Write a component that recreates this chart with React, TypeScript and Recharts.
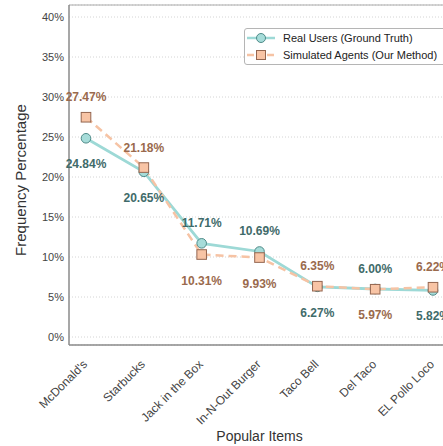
import React from 'react';
import {
  LineChart,
  Line,
  XAxis,
  YAxis,
  CartesianGrid,
  LabelList,
  ReferenceLine,
  Label,
} from 'recharts';

const categories = [
  "McDonald's",
  'Starbucks',
  'Jack in the Box',
  'In-N-Out Burger',
  'Taco Bell',
  'Del Taco',
  'EL Pollo Loco',
];
const realUsers = [24.84, 20.65, 11.71, 10.69, 6.27, 6.0, 5.82];
const simulatedAgents = [27.47, 21.18, 10.31, 9.93, 6.35, 5.97, 6.22];
const yTicks = [0, 5, 10, 15, 20, 25, 30, 35, 40];
const legendNames = ['Real Users (Ground Truth)', 'Simulated Agents (Our Method)'];

const data = categories.map((name, i) => ({
  name,
  real: realUsers[i],
  sim: simulatedAgents[i],
}));

const FONT = '"Liberation Sans", Arial, sans-serif';
const TEAL_LINE = '#9dd9d6';
const TEAL_FILL = '#a6dcd9';
const TEAL_EDGE = '#4f8b89';
const TEAL_TEXT = '#3f6b6a';
const PEACH_LINE = '#f6c3a4';
const PEACH_FILL = '#f8c4a5';
const PEACH_EDGE = '#946650';
const PEACH_TEXT = '#9a6a4d';

// value label goes above the point when this series is the higher one
function makeLabel(color: string, own: number[], other: number[]) {
  return (props: any) => {
    const { x, y, index } = props;
    const above = own[index] >= other[index];
    return (
      <text
        x={x}
        y={above ? y - 16 : y + 30}
        textAnchor="middle"
        fill={color}
        fontSize={12}
        fontWeight="bold"
        fontFamily={FONT}
      >
        {own[index].toFixed(2)}%
      </text>
    );
  };
}

function CircleDot(props: any) {
  const { cx, cy } = props;
  if (cx == null || cy == null) return null;
  return <circle cx={cx} cy={cy} r={4.8} fill={TEAL_FILL} stroke={TEAL_EDGE} strokeWidth={1} />;
}

function SquareDot(props: any) {
  const { cx, cy } = props;
  if (cx == null || cy == null) return null;
  return (
    <rect x={cx - 4.8} y={cy - 4.8} width={9.6} height={9.6} fill={PEACH_FILL} stroke={PEACH_EDGE} strokeWidth={1} />
  );
}

function XTick(props: any) {
  const { x, y, payload } = props;
  return (
    <text
      x={x + 2}
      y={y + 12}
      transform={`rotate(-45, ${x + 2}, ${y + 12})`}
      textAnchor="end"
      fill="#444"
      fontSize={12}
      fontFamily={FONT}
    >
      {payload.value}
    </text>
  );
}

function YTitle() {
  return (
    <text
      x={20}
      y={180}
      transform="rotate(-90, 20, 180)"
      textAnchor="middle"
      dominantBaseline="central"
      fontSize={15}
      fontFamily={FONT}
      fill="#333"
    >
      Frequency Percentage
    </text>
  );
}

function LegendBox() {
  return (
    <div
      style={{
        position: 'absolute',
        left: 244,
        top: 28,
        border: '1px solid #b5b5b5',
        borderRadius: 3,
        background: '#fff',
        padding: '1px 6px 1px 2px',
        fontFamily: FONT,
        fontSize: 11,
        color: '#222',
        width: 204,
        boxSizing: 'border-box',
      }}
    >
      {legendNames.map((label, i) => (
        <div key={label} style={{ display: 'flex', alignItems: 'center', height: 16.5, whiteSpace: 'nowrap' }}>
          <svg width={34} height={12} style={{ marginRight: 2, flex: 'none' }}>
            {i === 0 ? (
              <>
                <line x1={0} y1={6} x2={28} y2={6} stroke={TEAL_LINE} strokeWidth={2.5} />
                <circle cx={14} cy={6} r={4.5} fill={TEAL_FILL} stroke={TEAL_EDGE} strokeWidth={1} />
              </>
            ) : (
              <>
                <line x1={0} y1={6} x2={28} y2={6} stroke={PEACH_LINE} strokeWidth={2.5} strokeDasharray="7 3" />
                <rect x={9.5} y={1.5} width={9} height={9} fill={PEACH_FILL} stroke={PEACH_EDGE} strokeWidth={1} />
              </>
            )}
          </svg>
          <span>{label}</span>
        </div>
      ))}
    </div>
  );
}

export default function App() {
  return (
    <div style={{ position: 'absolute', left: 0, top: 0, width: 443, height: 446, overflow: 'hidden', background: '#fff' }}>
      <LineChart width={452} height={446} data={data} margin={{ top: 5, right: 2, left: 0, bottom: 0 }}>
        <CartesianGrid vertical={false} stroke="#d4d4d4" strokeDasharray="1 2" />
        <XAxis
          dataKey="name"
          interval={0}
          padding={{ left: 17, right: 17 }}
          height={101}
          tick={<XTick />}
          tickLine={false}
          axisLine={{ stroke: '#8a8a8a', strokeWidth: 1.5 }}
        >
          <Label
            value="Popular Items"
            position="insideBottom"
            offset={5}
            style={{ fontSize: 14, fontFamily: FONT, fill: '#333' }}
          />
        </XAxis>
        <YAxis
          type="number"
          domain={[-1, 41.5]}
          allowDataOverflow
          ticks={yTicks}
          tickFormatter={(v: number) => `${v}%`}
          width={69}
          tickSize={0}
          tickMargin={5}
          tickLine={false}
          tick={{ fontSize: 11, fill: '#444', fontFamily: FONT }}
          axisLine={{ stroke: '#8a8a8a', strokeWidth: 1.5 }}
        >
          <Label content={<YTitle />} />
        </YAxis>
        <ReferenceLine y={41.5} stroke="#aaaaaa" strokeWidth={1} />
        <Line
          name={legendNames[0]}
          dataKey="real"
          stroke={TEAL_LINE}
          strokeWidth={2.8}
          dot={<CircleDot />}
          activeDot={false}
          isAnimationActive={false}
        >
          <LabelList dataKey="real" content={makeLabel(TEAL_TEXT, realUsers, simulatedAgents)} />
        </Line>
        <Line
          name={legendNames[1]}
          dataKey="sim"
          stroke={PEACH_LINE}
          strokeWidth={2.5}
          strokeDasharray="8 5"
          dot={<SquareDot />}
          activeDot={false}
          isAnimationActive={false}
        >
          <LabelList dataKey="sim" content={makeLabel(PEACH_TEXT, simulatedAgents, realUsers)} />
        </Line>
      </LineChart>
      <LegendBox />
    </div>
  );
}
